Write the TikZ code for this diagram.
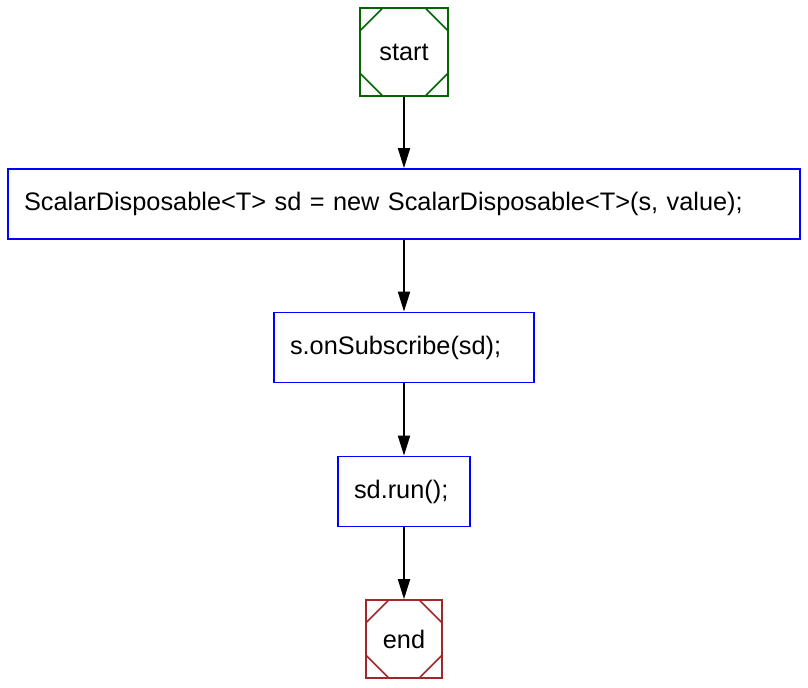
\documentclass[tikz,border=0pt]{standalone}
\usepackage{fontspec}
\setmainfont{Liberation Sans}
\usetikzlibrary{arrows.meta}
\definecolor{startgreen}{RGB}{0,100,0}
\definecolor{endred}{RGB}{160,40,40}
\tikzset{>={Triangle[length=15pt,width=9pt]},
  termbox/.style={draw=#1,line width=1.2pt,inner sep=0pt,
    path picture={
      \draw[#1,line width=1.2pt] (path picture bounding box.north west) ++(17pt,0) -- ++(-17pt,-17pt);
      \draw[#1,line width=1.2pt] (path picture bounding box.north east) ++(-17pt,0) -- ++(17pt,-17pt);
      \draw[#1,line width=1.2pt] (path picture bounding box.south west) ++(17pt,0) -- ++(-17pt,17pt);
      \draw[#1,line width=1.2pt] (path picture bounding box.south east) ++(-17pt,0) -- ++(17pt,17pt);}},
  stmtbox/.style={draw=blue,line width=1.3pt,inner xsep=12pt,inner ysep=0pt,align=left,
    minimum height=52.5pt},
  flow/.style={->,line width=1.4pt}}

\begin{document}
\begin{tikzpicture}[x=0.75pt,y=-0.75pt,font=\fontsize{19}{22}\selectfont]
\useasboundingbox (0,0) rectangle (808,688);
\node[termbox=startgreen,minimum width=66pt,minimum height=66pt] (start) at (404,52) {start};
\node[stmtbox,text width=570pt] (sdnew) at (404,204) {ScalarDisposable<T> sd = new ScalarDisposable<T>(s, value);};
\node[stmtbox,text width=171pt] (onsub) at (404,347.5) {s.onSubscribe(sd);};
\node[stmtbox,text width=75pt] (run) at (404,491.5) {sd.run();};
\node[termbox=endred,minimum width=57pt,minimum height=58.5pt] (end) at (404,639) {end};
\draw[flow] (start) -- (sdnew);
\draw[flow] (sdnew) -- (onsub);
\draw[flow] (onsub) -- (run);
\draw[flow] (run) -- (end);
\end{tikzpicture}
\end{document}
